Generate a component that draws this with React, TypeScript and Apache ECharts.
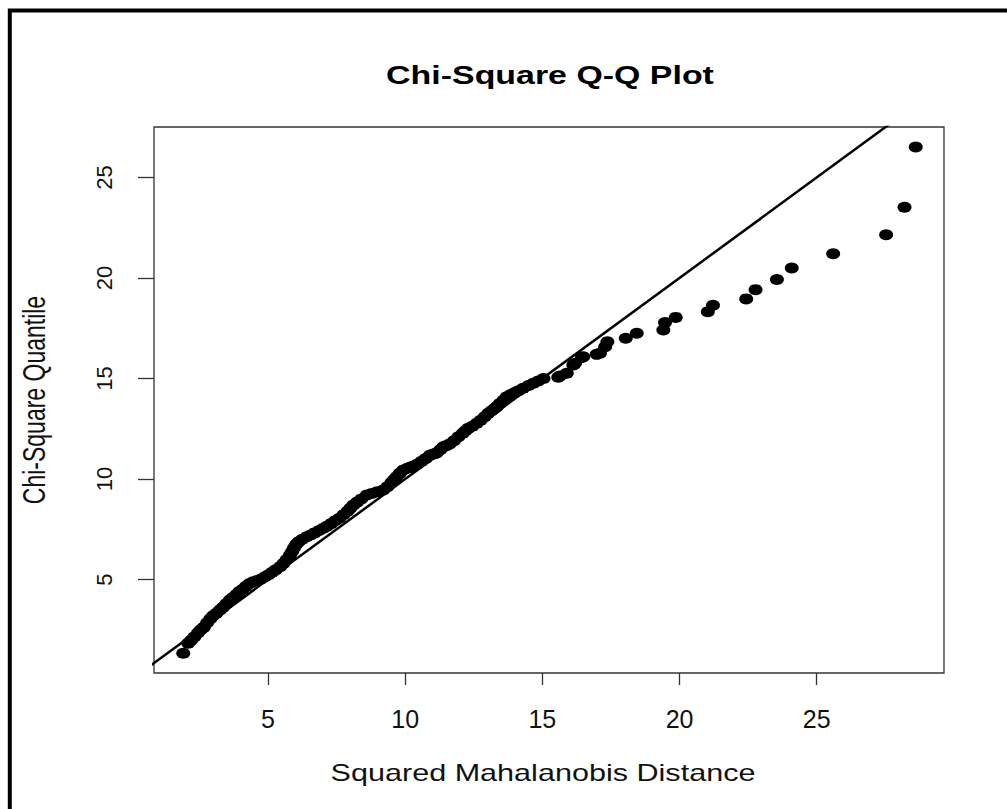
import React, { useEffect, useRef } from "react";
import * as echarts from "echarts";

// Sorted squared Mahalanobis distances (x) and matching chi-square quantiles (y)
const distances = [
  1.91, 2.09, 2.2, 2.32, 2.45, 2.55, 2.66, 2.78, 2.9, 3.0, 3.12, 3.25, 3.36, 3.48, 3.61, 3.72, 3.85, 3.96, 4.08, 4.2,
  4.33, 4.46, 4.6, 4.75, 4.89, 5.02, 5.15, 5.28, 5.44, 5.56, 5.68, 5.8, 5.88, 5.95, 6.03, 6.12, 6.25, 6.41, 6.55, 6.7,
  6.86, 7.02, 7.15, 7.3, 7.45, 7.6, 7.75, 7.9, 8.0, 8.11, 8.25, 8.4, 8.6, 8.78, 8.98, 9.2, 9.35, 9.5, 9.6, 9.69,
  9.8, 9.93, 10.08, 10.2, 10.3, 10.45, 10.6, 10.75, 10.91, 11.05, 11.15, 11.28, 11.39, 11.5, 11.62, 11.78, 11.94, 12.1, 12.2, 12.3,
  12.45, 12.61, 12.75, 12.9, 13.03, 13.15, 13.25, 13.34, 13.45, 13.58, 13.7, 13.85, 14.0, 14.13, 14.3, 14.5, 14.67, 14.85, 15.04,
  15.58, 15.64, 15.89, 16.13, 16.19, 16.44, 16.49, 16.98, 17.1, 17.29, 17.37, 18.04, 18.44, 19.41, 19.47, 19.86, 21.03, 21.22,
  22.43, 22.77, 23.55, 24.09, 25.6, 27.53, 28.2, 28.61,
];
const quantiles = [
  1.33, 1.83, 1.98, 2.15, 2.35, 2.5, 2.62, 2.85, 3.05, 3.2, 3.32, 3.48, 3.62, 3.8, 3.98, 4.1, 4.25, 4.4, 4.52, 4.66,
  4.8, 4.89, 4.95, 5.03, 5.14, 5.24, 5.36, 5.48, 5.64, 5.8, 6.0, 6.22, 6.4, 6.58, 6.75, 6.88, 7.0, 7.13, 7.22, 7.32,
  7.44, 7.55, 7.65, 7.78, 7.92, 8.05, 8.22, 8.4, 8.55, 8.71, 8.85, 9.0, 9.2, 9.28, 9.36, 9.45, 9.62, 9.82, 9.98, 10.11,
  10.28, 10.45, 10.54, 10.6, 10.65, 10.75, 10.88, 11.02, 11.19, 11.25, 11.3, 11.45, 11.61, 11.66, 11.74, 11.9, 12.1, 12.28, 12.4, 12.52,
  12.62, 12.77, 12.92, 13.1, 13.27, 13.4, 13.5, 13.6, 13.75, 13.92, 14.09, 14.2, 14.3, 14.39, 14.52, 14.65, 14.76, 14.88, 15.0,
  15.06, 15.12, 15.26, 15.67, 15.76, 16.05, 16.08, 16.2, 16.25, 16.58, 16.83, 17.0, 17.25, 17.41, 17.78, 18.04, 18.32, 18.64,
  18.96, 19.42, 19.92, 20.5, 21.21, 22.15, 23.52, 26.51,
];

const xTicks = [5, 10, 15, 20, 25];
const yTicks = [5, 10, 15, 20, 25];
// reference line y = x
const refLine = [
  [0, 0],
  [30, 30],
];

const TITLE = "Chi-Square Q-Q Plot";
const X_NAME = "Squared Mahalanobis Distance";
const Y_NAME = "Chi-Square Quantile";

const FONT = '"Liberation Sans", Arial, sans-serif';
const SX = 1.33;

export default function App() {
  const ref = useRef<HTMLDivElement>(null);
  useEffect(() => {
    const chart = echarts.init(ref.current!, null, { renderer: "svg" });
    const points = distances.map((d, i) => [d, quantiles[i]]);
    chart.setOption({
      animation: false,
      backgroundColor: "#ffffff",
      grid: {
        left: 154,
        top: 127,
        right: 1007 - 944,
        bottom: 809 - 673,
        show: true,
        borderColor: "#333333",
        borderWidth: 1.3,
        backgroundColor: "transparent",
      },
      xAxis: {
        type: "value",
        min: 0.844,
        max: 29.64,
        axisLine: { show: false },
        splitLine: { show: false },
        axisTick: {
          show: true,
          customValues: xTicks,
          length: 12,
          lineStyle: { color: "#333333", width: 1.3 },
        },
        axisLabel: {
          customValues: xTicks,
          margin: 33,
          fontSize: 25,
          fontFamily: FONT,
          color: "#111111",
        },
      },
      yAxis: {
        type: "value",
        min: 0.35,
        max: 27.51,
        axisLine: { show: false },
        splitLine: { show: false },
        axisTick: {
          show: true,
          customValues: yTicks,
          length: 16,
          lineStyle: { color: "#333333", width: 1.3 },
        },
        axisLabel: {
          customValues: yTicks,
          rotate: 90,
          margin: 39,
          fontSize: 22,
          fontFamily: FONT,
          color: "#111111",
        },
      },
      series: [
        {
          type: "line",
          data: refLine,
          showSymbol: false,
          symbol: "none",
          clip: true,
          lineStyle: { color: "#000000", width: 2.5 },
          z: 2,
        },
        {
          type: "scatter",
          data: points,
          symbol: "circle",
          symbolSize: [14, 11],
          itemStyle: { color: "#000000", opacity: 1 },
          z: 3,
        },
      ],
      graphic: [
        {
          type: "rect",
          shape: { x: 9.8, y: 10.4, width: 1200, height: 1000 },
          style: { fill: "none", stroke: "#000000", lineWidth: 4 },
          z: 100,
        },
        {
          type: "text",
          x: 550,
          y: 75,
          scaleX: SX,
          style: {
            text: TITLE,
            fontSize: 25.5,
            fontWeight: "bold",
            fontFamily: FONT,
            fill: "#000000",
            textAlign: "center",
            textVerticalAlign: "middle",
            align: "center",
            verticalAlign: "middle",
          },
        },
        {
          type: "text",
          x: 543,
          y: 773,
          scaleX: SX,
          style: {
            text: X_NAME,
            fontSize: 23,
            fontFamily: FONT,
            fill: "#111111",
            textAlign: "center",
            textVerticalAlign: "middle",
            align: "center",
            verticalAlign: "middle",
          },
        },
        {
          type: "text",
          x: 35,
          y: 400,
          rotation: Math.PI / 2,
          scaleY: SX,
          style: {
            text: Y_NAME,
            fontSize: 23,
            fontFamily: FONT,
            fill: "#111111",
            textAlign: "center",
            textVerticalAlign: "middle",
            align: "center",
            verticalAlign: "middle",
          },
        },
      ],
    });
    return () => chart.dispose();
  }, []);
  return (
    <div
      ref={ref}
      style={{ position: "fixed", left: 0, top: 0, width: 1007, height: 809, background: "#fff" }}
    />
  );
}
